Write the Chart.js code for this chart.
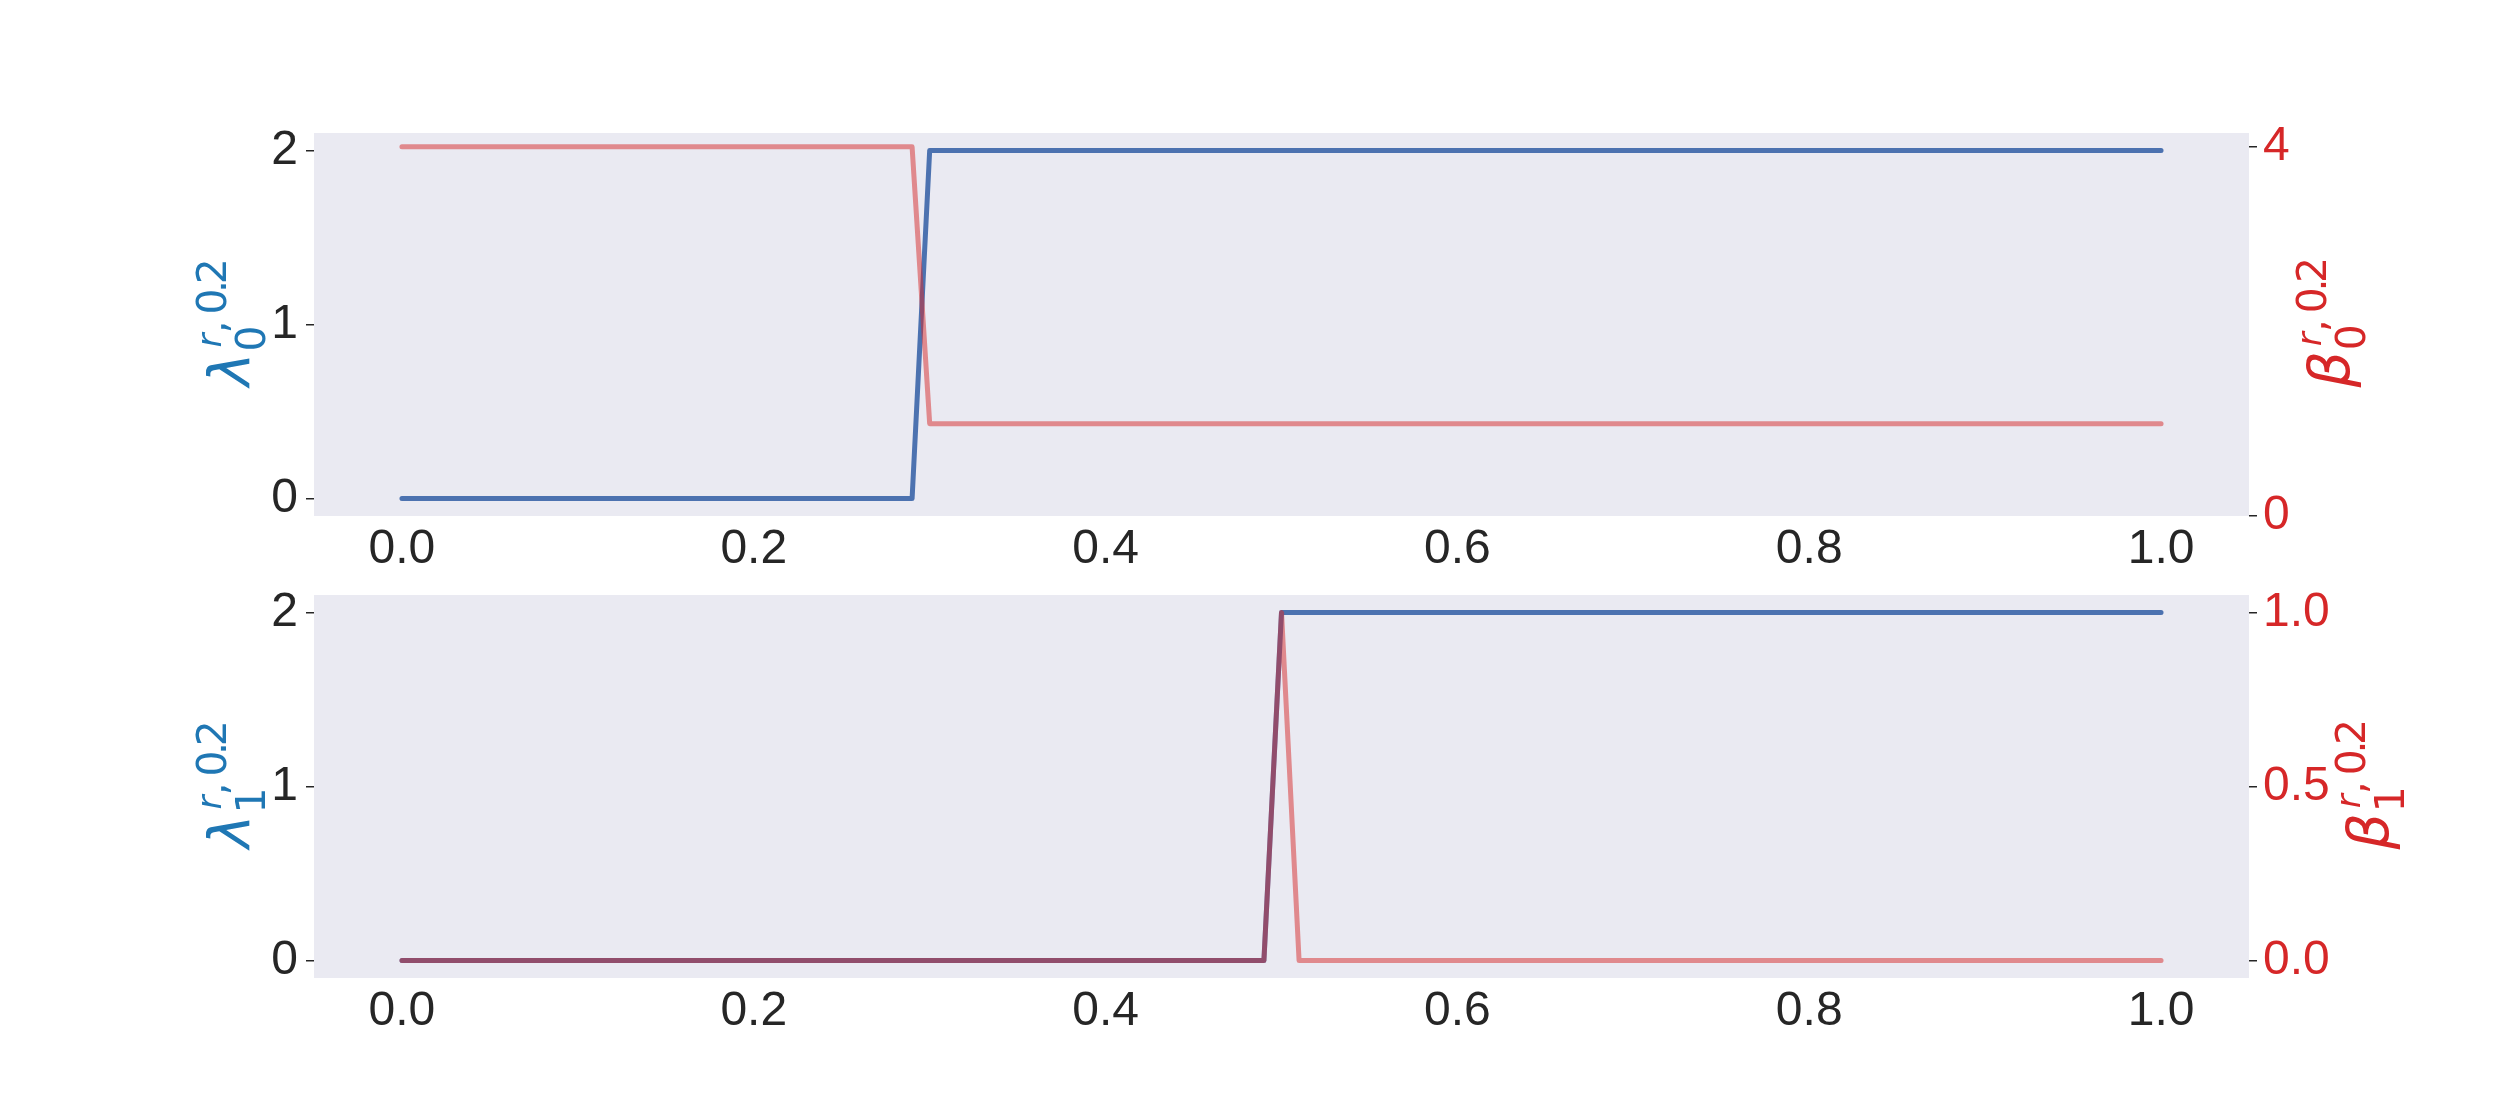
<!DOCTYPE html>
<html>
<head>
<meta charset="utf-8">
<script src="https://cdn.jsdelivr.net/npm/chart.js@4.4.1/dist/chart.umd.min.js"></script>
<style>
  html, body { margin: 0; padding: 0; background: #ffffff; }
  #wrap { position: relative; width: 2500px; height: 1100px; overflow: hidden; }
  canvas { position: absolute; left: 0; }
</style>
</head>
<body>
<div id="wrap">
  <canvas id="topChart" width="2500" height="580" style="top:0"></canvas>
  <canvas id="bottomChart" width="2500" height="620" style="top:480px"></canvas>
</div>
<script>
// x tick labels shared by both panels
const xTicks = [0.0, 0.2, 0.4, 0.6, 0.8, 1.0];

// top panel: lambda_0 (left axis) and beta_0 (right axis)
const lambda0X = [0.0, 0.29, 0.30, 1.0];
const lambda0Y = [0, 0, 2, 2];
const beta0X = [0.0, 0.29, 0.30, 1.0];
const beta0Y = [4, 4, 1, 1];
const topLeftTicks = [0, 1, 2];
const topRightTicks = [0, 4];

// bottom panel: lambda_1 (left axis) and beta_1 (right axis)
const lambda1X = [0.0, 0.49, 0.50, 1.0];
const lambda1Y = [0, 0, 2, 2];
const beta1X = [0.0, 0.49, 0.50, 0.51, 1.0];
const beta1Y = [0, 0, 1, 0, 0];
const bottomLeftTicks = [0, 1, 2];
const bottomRightTicks = [0.0, 0.5, 1.0];

const BLUE = '#4c72b0';
const RED_LINE = 'rgba(214, 39, 40, 0.5)';
const LABEL_BLUE = '#1f77b4';
const LABEL_RED = '#d62728';
const TEXT = '#262626';
const BG = '#eaeaf2';
const TICK_FONT = { family: '"Liberation Sans", Arial, sans-serif', size: 48 };

const toPoints = (xs, ys) => xs.map((x, i) => ({ x: x, y: ys[i] }));

// paints the seaborn-like background inside the plot area
const bgPlugin = {
  id: 'plotBg',
  beforeDraw(chart) {
    const a = chart.chartArea, ctx = chart.ctx;
    ctx.save();
    ctx.fillStyle = BG;
    ctx.fillRect(a.left, a.top, a.right - a.left, a.bottom - a.top);
    ctx.restore();
  }
};

// axis titles with sub/superscripts, drawn rotated
function setFont(ctx, r, size) {
  ctx.font = (r.it ? 'italic ' : '') + (r.size || size) + 'px "DejaVu Sans", sans-serif';
  ctx.letterSpacing = (r.ls || 0) + 'px';
}
function drawRun(ctx, runs, u, v, size) {
  runs.forEach(r => {
    setFont(ctx, r, size);
    ctx.fillText(r.t, u, v + (r.dv || 0));
    u += ctx.measureText(r.t).width + (r.gap || 0);
  });
  return u;
}
function runWidth(ctx, runs, size) {
  let w = 0;
  runs.forEach(r => {
    setFont(ctx, r, size);
    w += ctx.measureText(r.t).width + (r.gap || 0);
  });
  return w;
}
const mathLabels = {
  id: 'mathLabels',
  afterDraw(chart, args, opts) {
    const ctx = chart.ctx, a = chart.chartArea;
    const cy = (a.top + a.bottom) / 2;
    (opts.items || []).forEach(lab => {
      const big = 57, small = 41;
      ctx.save();
      const wBase = runWidth(ctx, lab.base, big);
      const wSub = runWidth(ctx, lab.sub, small);
      const wSup = runWidth(ctx, lab.sup, small);
      const total = wBase + Math.max(wSub + 1, wSup + 5);
      ctx.translate(lab.x, cy);
      ctx.rotate(-Math.PI / 2);
      ctx.fillStyle = lab.color;
      ctx.textBaseline = 'alphabetic';
      ctx.textAlign = 'left';
      const u = -total / 2;
      drawRun(ctx, lab.base, u, 0, big);
      drawRun(ctx, lab.sub, u + wBase + 1, 16, small);
      drawRun(ctx, lab.sup, u + wBase + 5, -23, small);
      ctx.restore();
    });
  }
};

const supText = [
  { t: 'r', it: true, size: 34, dv: -5 },
  { t: ',', gap: 6 },
  { t: '0.2', ls: -4.5 }
];

function makeChart(id, cfg) {
  return new Chart(document.getElementById(id), {
    type: 'line',
    data: {
      datasets: [
        {
          data: toPoints(cfg.redX, cfg.redY), yAxisID: 'y2',
          borderColor: RED_LINE, borderWidth: 5, order: 0
        },
        {
          data: toPoints(cfg.blueX, cfg.blueY), yAxisID: 'y',
          borderColor: BLUE, borderWidth: 5, order: 1
        }
      ]
    },
    options: {
      responsive: false,
      animation: false,
      parsing: false,
      elements: {
        point: { radius: 0 },
        line: { tension: 0, borderCapStyle: 'round', borderJoinStyle: 'round', fill: false }
      },
      layout: { padding: { top: cfg.top, left: 0, right: 0, bottom: 0 } },
      plugins: {
        legend: { display: false },
        tooltip: { enabled: false },
        mathLabels: { items: cfg.labels }
      },
      scales: {
        x: {
          type: 'linear', min: -0.05, max: 1.05,
          afterBuildTicks: s => { s.ticks = xTicks.map(v => ({ value: v })); },
          afterFit: s => { s.height = cfg.xHeight; },
          ticks: { font: TICK_FONT, color: TEXT, padding: 5, maxRotation: 0,
                   callback: v => v.toFixed(1) },
          grid: { display: false, drawTicks: false },
          border: { display: false }
        },
        y: {
          position: 'left', min: -0.1, max: 2.1,
          afterBuildTicks: s => { s.ticks = cfg.leftTicks.map(v => ({ value: v })); },
          afterFit: s => { s.width = 314; },
          ticks: { font: TICK_FONT, color: TEXT, padding: 8, callback: v => String(v) },
          grid: { drawOnChartArea: false, drawTicks: true, tickLength: 8,
                  tickColor: TEXT, tickWidth: 1.5, lineWidth: 1.5 },
          border: { display: false }
        },
        y2: {
          position: 'right', min: cfg.rightMin, max: cfg.rightMax,
          afterBuildTicks: s => { s.ticks = cfg.rightTicks.map(v => ({ value: v })); },
          afterFit: s => { s.width = 251; },
          ticks: { font: TICK_FONT, color: LABEL_RED, padding: 6, callback: cfg.rightFmt },
          grid: { drawOnChartArea: false, drawTicks: true, tickLength: 8,
                  tickColor: TEXT, tickWidth: 1.5, lineWidth: 1.5 },
          border: { display: false }
        }
      }
    },
    plugins: [bgPlugin, mathLabels]
  });
}

makeChart('topChart', {
  top: 133, xHeight: 64,
  blueX: lambda0X, blueY: lambda0Y, redX: beta0X, redY: beta0Y,
  leftTicks: topLeftTicks, rightTicks: topRightTicks,
  rightMin: 0, rightMax: 4.15, rightFmt: v => String(v),
  labels: [
    { x: 249, color: LABEL_BLUE, base: [{ t: 'λ', it: true }], sub: [{ t: '0' }], sup: supText },
    { x: 2349, color: LABEL_RED, base: [{ t: 'β', it: true }], sub: [{ t: '0' }], sup: supText }
  ]
});

makeChart('bottomChart', {
  top: 115, xHeight: 122,
  blueX: lambda1X, blueY: lambda1Y, redX: beta1X, redY: beta1Y,
  leftTicks: bottomLeftTicks, rightTicks: bottomRightTicks,
  rightMin: -0.05, rightMax: 1.05, rightFmt: v => v.toFixed(1),
  labels: [
    { x: 249, color: LABEL_BLUE, base: [{ t: 'λ', it: true }], sub: [{ t: '1' }], sup: supText },
    { x: 2388, color: LABEL_RED, base: [{ t: 'β', it: true }], sub: [{ t: '1' }], sup: supText }
  ]
});
</script>
</body>
</html>
